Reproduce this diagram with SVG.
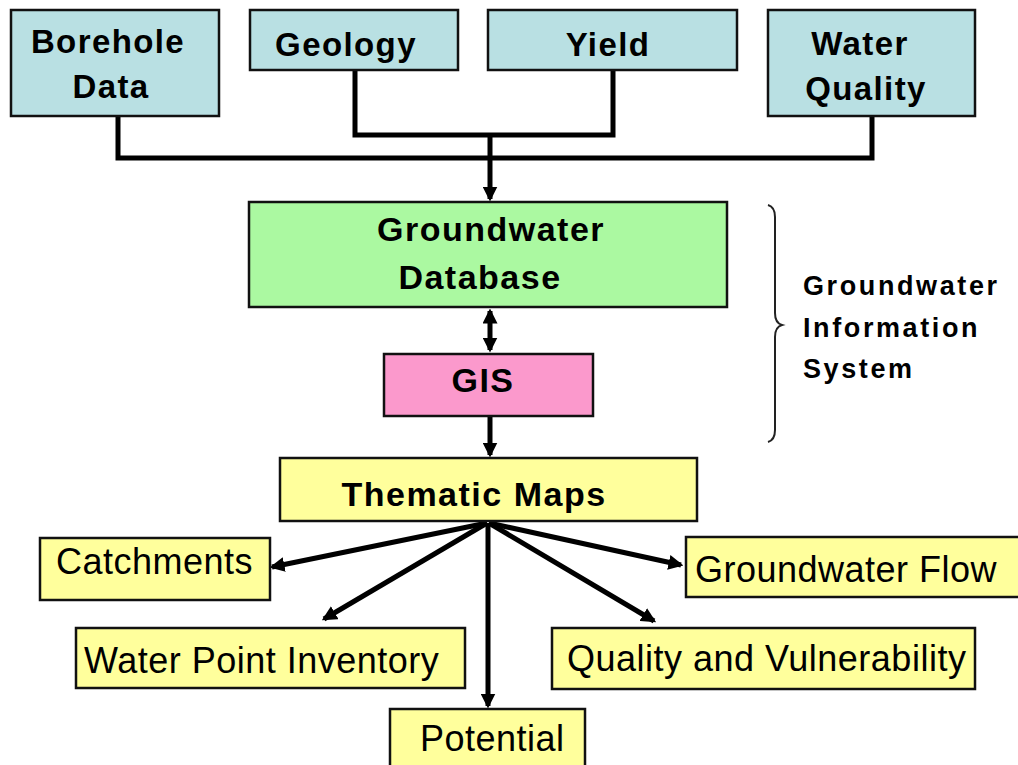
<svg xmlns="http://www.w3.org/2000/svg" width="1018" height="765" viewBox="0 0 1018 765">
<style>
.box{stroke:#111;stroke-width:2.5}
.blue{fill:#b9e0e3}
.green{fill:#abf9a1}
.pink{fill:#fb99cc}
.yellow{fill:#ffff9c}
.tb{font-family:"Liberation Sans",Arial,sans-serif;font-weight:bold;font-size:33px;letter-spacing:1.4px;fill:#000;text-anchor:middle}
.tr{font-family:"Liberation Sans",Arial,sans-serif;font-size:36px;letter-spacing:0.5px;fill:#000}
.side{font-family:"Liberation Sans",Arial,sans-serif;font-weight:bold;font-size:27px;letter-spacing:2.6px;fill:#000}
.ln{fill:none;stroke:#000;stroke-width:5}
.ar{fill:none;stroke:#000;stroke-width:5}
</style>
<defs>
<marker id="ah" viewBox="0 0 12 12" refX="10" refY="6" markerWidth="15" markerHeight="15" markerUnits="userSpaceOnUse" orient="auto-start-reverse">
<path d="M0,0 L12,6 L0,12 z" fill="#000"/>
</marker>
</defs>
<rect width="1018" height="765" fill="#fff"/>

<g id="connectors">
<path class="ln" d="M118 117 V158 H872 V117"/>
<path class="ln" d="M355 71 V135 H613 V71"/>
<path class="ar" d="M490 135 V199" marker-end="url(#ah)"/>
<path class="ar" d="M490 311 V350" marker-start="url(#ah)" marker-end="url(#ah)"/>
<path class="ar" d="M490 417 V455" marker-end="url(#ah)"/>
<path class="ar" d="M487 523 L272 567" marker-end="url(#ah)"/>
<path class="ar" d="M487 523 L324 619" marker-end="url(#ah)"/>
<path class="ar" d="M488 523 V706" marker-end="url(#ah)"/>
<path class="ar" d="M489 523 L681 565" marker-end="url(#ah)"/>
<path class="ar" d="M489 523 L654 621" marker-end="url(#ah)"/>
</g>

<g id="borehole">
<rect class="box blue" x="11" y="10" width="208" height="106"/>
<text class="tb" x="108" y="53">Borehole</text>
<text class="tb" x="111" y="98">Data</text>
</g>
<g id="geology">
<rect class="box blue" x="250" y="10" width="208" height="60"/>
<text class="tb" x="346" y="56">Geology</text>
</g>
<g id="yield">
<rect class="box blue" x="488" y="10" width="249" height="60"/>
<text class="tb" x="608" y="56">Yield</text>
</g>
<g id="waterquality">
<rect class="box blue" x="768" y="10" width="207" height="106"/>
<text class="tb" x="860" y="55">Water</text>
<text class="tb" x="866" y="100">Quality</text>
</g>

<g id="database">
<rect class="box green" x="249" y="202" width="478" height="105"/>
<text class="tb" x="491" y="241" style="font-size:34px;letter-spacing:1.5px">Groundwater</text>
<text class="tb" x="480" y="289" style="font-size:34px;letter-spacing:1.5px">Database</text>
</g>
<g id="gis">
<rect class="box pink" x="384" y="354" width="209" height="62"/>
<text class="tb" x="483" y="392" style="font-size:34px">GIS</text>
</g>
<g id="thematic">
<rect class="box yellow" x="280" y="458" width="417" height="63"/>
<text class="tb" x="474" y="506" style="font-size:34px;letter-spacing:1.5px">Thematic Maps</text>
</g>

<g id="gis-brace">
<path d="M768 205 Q775 207 775 217 V313 Q775 323 782 325 Q775 327 775 337 V430 Q775 440 768 442" fill="none" stroke="#222" stroke-width="2"/>
<text class="side" x="803" y="295">Groundwater</text>
<text class="side" x="803" y="337">Information</text>
<text class="side" x="803" y="378">System</text>
</g>

<g id="catchments">
<rect class="box yellow" x="40" y="538" width="230" height="62"/>
<text class="tr" x="56" y="574">Catchments</text>
</g>
<g id="waterpoint">
<rect class="box yellow" x="76" y="628" width="389" height="60"/>
<text class="tr" x="84" y="673">Water Point Inventory</text>
</g>
<g id="potential">
<rect class="box yellow" x="390" y="709" width="195" height="70"/>
<text class="tr" x="420" y="751">Potential</text>
</g>
<g id="gwflow">
<rect class="box yellow" x="686" y="537" width="340" height="60"/>
<text class="tr" x="695" y="582">Groundwater Flow</text>
</g>
<g id="quality">
<rect class="box yellow" x="552" y="628" width="423" height="61"/>
<text class="tr" x="567" y="671">Quality and Vulnerability</text>
</g>
</svg>
